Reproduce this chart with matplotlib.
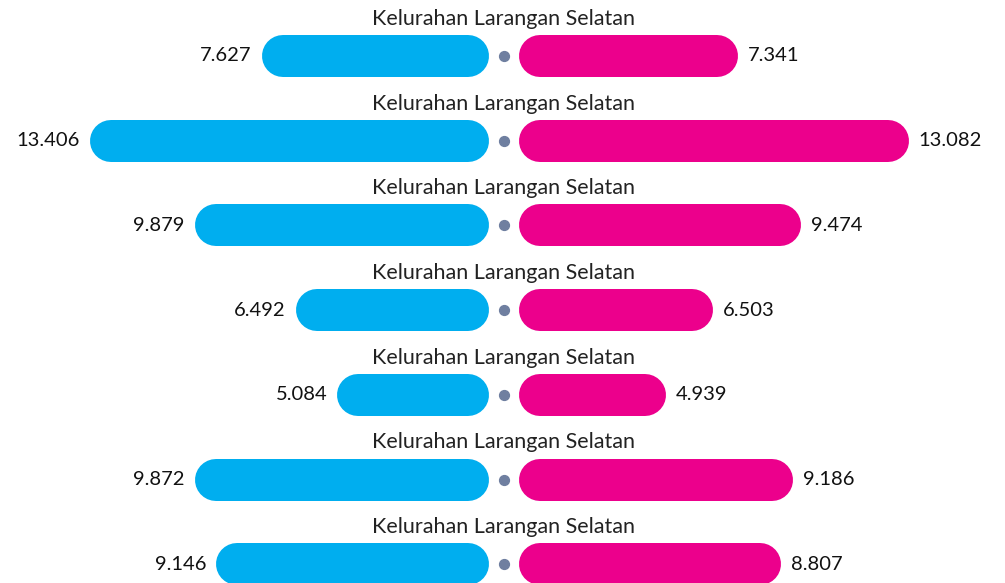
import matplotlib
matplotlib.use("Agg")
import matplotlib.pyplot as plt

labels = ["Kelurahan Larangan Selatan"] * 7
left_vals = [7.627, 13.406, 9.879, 6.492, 5.084, 9.872, 9.146]
right_vals = [7.341, 13.082, 9.474, 6.503, 4.939, 9.186, 8.807]

BLUE = "#00AEEF"
PINK = "#EC008C"
DOT = "#6F7FA0"

W, H = 1005, 583
px_x = 29.8      # pixels per value unit
px_y = 84.7      # pixels per row
cx = 504         # center pixel
top = 56         # first row center from top

fig = plt.figure(figsize=(W / 100, H / 100), dpi=100)
ax = fig.add_axes([0, 0, 1, 1])
ax.set_xlim(-cx / px_x, (W - cx) / px_x)
ax.set_ylim((H - top) / px_y, -top / px_y)
ax.set_axis_off()

gap = 15 / px_x
cap = 21 / px_x
lw = 42 * 72 / 100
pad = 10 / px_x

plt.rcParams['font.family'] = ['Lato', 'DejaVu Sans']

for i, (lab, lv, rv) in enumerate(zip(labels, left_vals, right_vals)):
    ax.plot([-gap - lv + cap, -gap - cap], [i, i], color=BLUE, lw=lw,
            solid_capstyle='round')
    ax.plot([gap + cap, gap + rv - cap], [i, i], color=PINK, lw=lw,
            solid_capstyle='round')
    ax.scatter([0], [i], s=50, color=DOT, zorder=3)
    ax.text(0, i - 37 / px_y, lab, ha='center', va='center', fontsize=15.5,
            color='#222222')
    ax.text(-gap - lv - pad, i, f"{lv:.3f}", ha='right', va='center',
            fontsize=14.5, color='#111111')
    ax.text(gap + rv + pad, i, f"{rv:.3f}", ha='left', va='center',
            fontsize=14.5, color='#111111')

fig.savefig("out.png", dpi=100)
